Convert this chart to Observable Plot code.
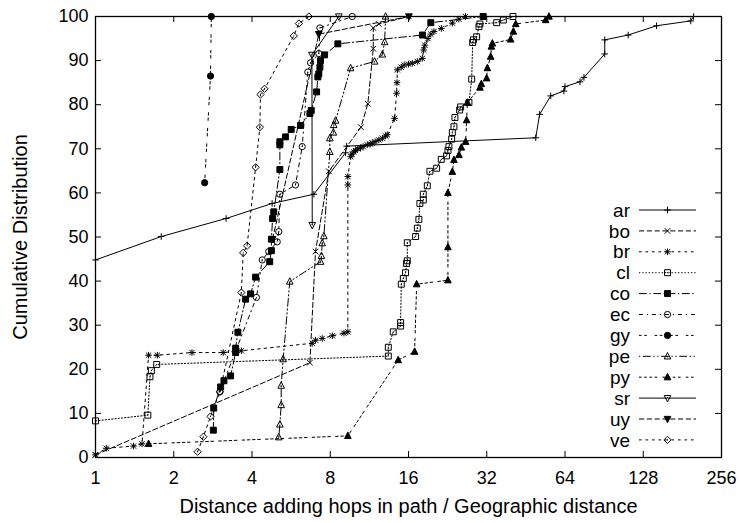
<!DOCTYPE html>
<html><head><meta charset="utf-8">
<script src="https://cdn.jsdelivr.net/npm/d3@7"></script>
<script src="https://cdn.jsdelivr.net/npm/@observablehq/plot@0.6"></script>
<style>body{margin:0;background:#fff} svg{display:block}</style>
</head><body><div id="chart"></div>
<script>
const seriesNames = ["ar","bo","br","cl","co","ec","gy","pe","py","sr","uy","ve"];
const xTicks = [1,2,4,8,16,32,64,128,256];
const yTicks = [0,10,20,30,40,50,60,70,80,90,100];
const xLabel = "Distance adding hops in path / Geographic distance";
const yLabel = "Cumulative Distribution";

const ar = [[1,44.8],[1.79,50.1],[3.18,54.2],[4.78,57.6],[6.92,59.7],[9.16,69.1],[9.25,70.6],[49.4,72.5],[51.1,77.8],[56.4,82],[63.4,83.1],[64,84.1],[73.1,85.2],[75.7,86.2],[91,91.5],[91,94.7],[112,95.8],[144,97.9],[195,99],[200,100]];
const bo = [[1,0.6],[6.68,21.5],[7.02,46.7],[7.90,64.9],[10.5,74.9],[11.16,80.2],[11.71,92.7],[11.71,97.4],[12.3,98.3],[16.06,100]];
const br = [[1,0.6],[1.10,2.1],[1.40,2.6],[1.51,3.1],[1.60,23.2],[1.73,23.2],[2.35,23.8],[3.10,23.8],[3.64,24.2],[6.82,25.9],[7.02,26.6],[7.45,27.0],[8.15,27.6],[9.03,28.2],[9.35,28.5],[9.35,61.8],[9.35,63.7],[9.58,68.2],[9.7,68.8],[9.85,69.3],[10.0,69.6],[10.2,70.0],[10.46,70.2],[10.7,70.5],[11.1,70.9],[11.4,71.1],[11.6,71.3],[11.9,71.6],[12.3,72.0],[12.7,72.4],[13.06,72.9],[13.26,73.2],[14.14,76.9],[14.4,82.6],[14.45,85.0],[14.5,87.9],[15.0,88.5],[15.4,89.0],[16.0,89.2],[16.55,89.4],[17.3,89.8],[18.08,90.5],[18.3,92.4],[18.5,93.5],[19.0,95.0],[19.5,96.0],[20.05,96.6],[21.4,97.3],[23.6,98.5],[25.0,99.4],[26.5,100]];
const cl = [[1,8.3],[1.59,9.6],[1.62,18.3],[1.64,19.7],[1.72,21.1],[13.38,23.0],[13.38,25.0],[13.98,28.5],[14.92,29.8],[14.92,30.6],[15.01,39.3],[15.28,40.6],[15.59,41.9],[15.73,44.0],[15.83,44.6],[15.83,48.7],[17.04,50.1],[17.3,52.0],[17.54,54.0],[17.7,57.6],[18.24,58.4],[18.24,59.7],[18.9,61.6],[19.34,64.9],[20.53,65.6],[21.39,67.6],[22.42,68.4],[22.69,69.6],[22.89,70.5],[23.45,72.2],[23.59,73.7],[23.93,75.0],[24.14,77.1],[25.17,78.8],[25.39,79.5],[27.33,80.5],[28.0,85.8],[28.25,94.1],[28.42,94.7],[29.26,95.4],[29.86,97.7],[30.13,98.3],[34.95,98.6],[37.07,99.2],[40.37,100]];
const co = [[2.84,6.2],[2.85,11.2],[3.03,16.0],[3.12,17.4],[3.31,18.5],[3.46,23.8],[3.46,24.8],[3.53,28.4],[3.78,35.9],[3.95,37.1],[4.13,40.9],[4.68,44.4],[4.75,46.9],[4.75,49.5],[4.80,54.2],[4.85,55.7],[5.12,65.3],[5.12,70.9],[5.12,71.6],[5.38,72.7],[5.66,74.4],[6.15,75.3],[6.68,78.0],[6.76,78.7],[7.09,82.9],[7.17,86.3],[7.23,87.0],[7.30,88.5],[7.34,90.0],[7.61,91.3],[8.56,93.8],[18.1,95.8],[19.5,98.6],[31.0,100]];
const ec = [[3.01,14.9],[4.16,36.3],[4.38,44.8],[4.64,46.7],[5.00,48.9],[5.07,51.2],[5.12,59.7],[5.88,61.8],[6.24,70.5],[6.56,87.4],[6.72,89.5],[7.23,91.6],[7.30,97.4],[9.72,100]];
const gy = [[2.63,62.3],[2.77,86.5],[2.79,100]];
const pe = [[5.07,4.6],[5.12,7.5],[5.18,11.9],[5.18,16.3],[5.27,22.3],[5.59,39.9],[7.34,44.4],[7.40,45.7],[7.45,48.6],[7.56,50.2],[7.97,69.3],[7.97,72.4],[8.22,73.7],[8.25,75.4],[8.39,76.4],[9.58,88.3],[11.85,89.8],[12.69,91.4],[12.95,94.2],[13.06,100]];
const py = [[1.60,3.1],[9.35,4.9],[14.6,22.1],[16.89,24.0],[17.2,39.3],[22.69,40.2],[22.69,47.7],[22.69,60.0],[23.59,64.8],[23.93,67.5],[25.02,68.6],[25.55,70.3],[26.54,71.6],[26.78,76.5],[26.95,80.5],[30.13,83.9],[30.5,84.7],[31.97,86.0],[32.17,88.3],[33.13,90.9],[33.34,93.2],[33.64,93.9],[39.55,94.8],[40.5,96.6],[41.35,98.3],[53.93,99.2],[55.53,100]];
const sr = [[6.82,52.7],[6.80,91.3],[8.63,100]];
const uy = [[4.80,49.5],[7.23,96.0],[16.06,100]];
const ve = [[2.47,1.3],[2.60,4.7],[2.77,9.3],[3.01,14.9],[3.64,37.4],[3.70,46.4],[3.83,48.0],[4.13,65.8],[4.29,74.9],[4.31,82.3],[4.47,83.6],[5.79,95.6],[6.06,98.4],[6.62,100]];

const seriesData = {ar, bo, br, cl, co, ec, gy, pe, py, sr, uy, ve};

// gnuplot-like symbols
const sym = fn => ({draw(c, size) { fn(c, Math.sqrt(size / Math.PI)); }});
const dotC = (c, cy = 0) => { c.moveTo(-0.5, cy); c.lineTo(0.5, cy); };
const plusS = sym((c, r) => { c.moveTo(-r, 0); c.lineTo(r, 0); c.moveTo(0, -r); c.lineTo(0, r); });
const timesS = sym((c, r) => { const a = r * 0.85; c.moveTo(-a, -a); c.lineTo(a, a); c.moveTo(-a, a); c.lineTo(a, -a); });
const asterS = sym((c, r) => { const a = r * 0.8; c.moveTo(-r, 0); c.lineTo(r, 0); c.moveTo(0, -r); c.lineTo(0, r); c.moveTo(-a, -a); c.lineTo(a, a); c.moveTo(-a, a); c.lineTo(a, -a); });
const squareO = sym((c, r) => { const a = r * 0.9; c.rect(-a, -a, 2 * a, 2 * a); dotC(c); });
const squareF = sym((c, r) => { const a = r * 0.9; c.rect(-a, -a, 2 * a, 2 * a); });
const circleO = sym((c, r) => { const a = r * 0.95; c.moveTo(a, 0); c.arc(0, 0, a, 0, 2 * Math.PI); dotC(c); });
const circleF = sym((c, r) => { const a = r * 0.95; c.moveTo(a, 0); c.arc(0, 0, a, 0, 2 * Math.PI); });
const triUp = (c, r) => { c.moveTo(0, -r * 1.15); c.lineTo(r, r * 0.8); c.lineTo(-r, r * 0.8); c.closePath(); };
const triDn = (c, r) => { c.moveTo(0, r * 1.15); c.lineTo(r, -r * 0.8); c.lineTo(-r, -r * 0.8); c.closePath(); };
const triUpO = sym((c, r) => { triUp(c, r); dotC(c, r * 0.2); });
const triUpF = sym((c, r) => triUp(c, r));
const triDnO = sym((c, r) => { triDn(c, r); dotC(c, -r * 0.2); });
const triDnF = sym((c, r) => triDn(c, r));
const diamO = sym((c, r) => { const a = r * 1.1; c.moveTo(0, -a); c.lineTo(a, 0); c.lineTo(0, a); c.lineTo(-a, 0); c.closePath(); dotC(c); });

const style = {
  ar: {sym: plusS, fill: "none", dash: null},
  bo: {sym: timesS, fill: "none", dash: [4, 2]},
  br: {sym: asterS, fill: "none", dash: [2, 3]},
  cl: {sym: squareO, fill: "none", dash: [1, 1.5]},
  co: {sym: squareF, fill: "black", dash: [6, 2, 1, 2]},
  ec: {sym: circleO, fill: "none", dash: [3, 3, 1, 3]},
  gy: {sym: circleF, fill: "black", dash: [2, 2, 2, 6]},
  pe: {sym: triUpO, fill: "none", dash: [1, 2, 6, 2, 1, 2]},
  py: {sym: triUpF, fill: "black", dash: [2, 2, 2, 2, 2, 2, 2, 4]},
  sr: {sym: triDnO, fill: "none", dash: null},
  uy: {sym: triDnF, fill: "black", dash: [4, 2]},
  ve: {sym: diamO, fill: "none", dash: [2, 3]}
};
const dl = 1.3;
const dashStr = d => d ? d.map(v => v * dl).join(",") : undefined;
const R = 3.3;

const W = 740, H = 523, mL = 95, mR = 19, mT = 16, mB = 66;
const pw = W - mL - mR, ph = H - mT - mB, tick = 6;
const FONT = '"Liberation Sans", Arial, Helvetica, sans-serif';

const marks = [];
for (const name of seriesNames) {
  const data = seriesData[name].map(([x, y]) => ({name, x, y}));
  const s = style[name];
  marks.push(Plot.line(data, {x: "x", y: "y", stroke: "black", strokeWidth: 1, strokeDasharray: dashStr(s.dash)}));
  marks.push(Plot.dot(data, {x: "x", y: "y", symbol: s.sym, r: R, stroke: "black", strokeWidth: 1, fill: s.fill}));
}

const chart = Plot.plot({
  width: W, height: H,
  marginLeft: mL, marginRight: mR, marginTop: mT, marginBottom: mB,
  style: {fontFamily: FONT, fontSize: "18px", background: "white", color: "black"},
  x: {type: "log", base: 2, domain: [1, 256]},
  y: {domain: [0, 100]},
  marks: [
    ...marks,
    Plot.ruleX(xTicks, {x: d => d, insetTop: ph - tick, stroke: "black", strokeWidth: 1}),
    Plot.ruleX(xTicks, {x: d => d, insetBottom: ph - tick, stroke: "black", strokeWidth: 1}),
    Plot.ruleY(yTicks, {y: d => d, insetRight: pw - tick, stroke: "black", strokeWidth: 1}),
    Plot.ruleY(yTicks, {y: d => d, insetLeft: pw - tick, stroke: "black", strokeWidth: 1}),
    Plot.frame({stroke: "black", strokeWidth: 1.3}),
    Plot.axisX(xTicks, {anchor: "bottom", tickSize: 0, tickPadding: 14, fontSize: 18, tickFormat: d => String(d), label: null}),
    Plot.axisY(yTicks, {anchor: "left", tickSize: 0, tickPadding: 7, fontSize: 18, tickFormat: d => String(d), label: null}),
    Plot.text([xLabel], {text: d => d, frameAnchor: "bottom", dy: 55, fontSize: 20, textAnchor: "middle"}),
    Plot.text([yLabel], {text: d => d, frameAnchor: "left", dx: -75, rotate: -90, fontSize: 20, textAnchor: "middle"})
  ]
});

// legend (inside plot, right side)
const svg = d3.select(chart);
const lg = svg.append("g").attr("font-family", FONT).attr("font-size", 19);
seriesNames.forEach((name, i) => {
  const y = 210 + i * 20.9;
  const s = style[name];
  lg.append("text").attr("x", 630).attr("y", y).attr("dy", "0.35em").attr("text-anchor", "end").attr("fill", "black").text(name);
  lg.append("line").attr("x1", 639).attr("x2", 696).attr("y1", y).attr("y2", y)
    .attr("stroke", "black").attr("stroke-width", 1).attr("stroke-dasharray", dashStr(s.dash) || null);
  lg.append("path").attr("transform", `translate(667.5,${y})`)
    .attr("d", d3.symbol().type(s.sym).size(R * R * Math.PI)())
    .attr("stroke", "black").attr("stroke-width", 1).attr("fill", s.fill);
});

document.getElementById("chart").appendChild(chart);
</script>
</body></html>
